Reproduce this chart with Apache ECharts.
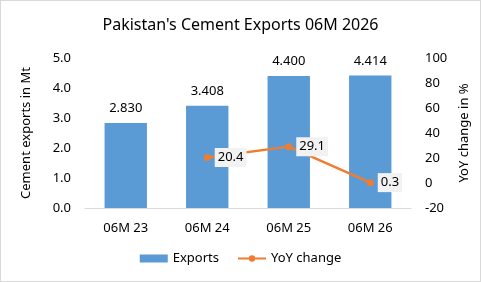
<!DOCTYPE html>
<html style="height: 100%">
<head>
<meta charset="utf-8">
<title>Pakistan's Cement Exports 06M 2026</title>
</head>
<body style="height: 100%; margin: 0">
<div id="container" style="width: 479px; height: 280px; border: 1px solid #d9d9d9; background: #fff"></div>
<script src="https://cdn.jsdelivr.net/npm/echarts@6/dist/echarts.min.js"></script>
<script>
var categories = ['06M 23', '06M 24', '06M 25', '06M 26'];
var exportsMt = [2.830, 3.408, 4.400, 4.414];
var yoyChange = [null, 20.4, 29.1, 0.3];

var font = 'Noto Sans';
var chart = echarts.init(document.getElementById('container'));

var option = {
    textStyle: { fontFamily: font },
    title: {
        text: "Pakistan's Cement Exports 06M 2026",
        left: 'center',
        top: 11,
        textStyle: { fontFamily: font, fontSize: 16, fontWeight: 'normal', color: '#000' }
    },
    legend: {
        bottom: 11,
        itemGap: 18,
        textStyle: { fontFamily: font, fontSize: 13, color: '#000' },
        data: [
            { name: 'Exports', icon: 'rect', itemStyle: { color: '#5B9BD5' } },
            { name: 'YoY change' }
        ],
        itemWidth: 28,
        itemHeight: 8
    },
    grid: { left: 84, right: 69, top: 57, bottom: 73 },
    xAxis: {
        type: 'category',
        data: categories,
        axisTick: { show: false },
        axisLine: { lineStyle: { color: '#d9d9d9' } },
        axisLabel: { color: '#000', fontSize: 13, margin: 14 }
    },
    yAxis: [{
        type: 'value',
        min: 0, max: 5, interval: 1,
        name: 'Cement exports in Mt',
        nameLocation: 'middle',
        nameGap: 52,
        nameTextStyle: { color: '#000', fontSize: 13 },
        splitLine: { show: false },
        axisLabel: { color: '#000', fontSize: 13, margin: 14, formatter: function (v) { return v.toFixed(1); } }
    }, {
        type: 'value',
        min: -20, max: 100, interval: 20,
        name: 'YoY change in %',
        nameLocation: 'middle',
        nameGap: 42,
        nameRotate: 90,
        nameTextStyle: { color: '#000', fontSize: 13 },
        splitLine: { show: false },
        axisLabel: { color: '#000', fontSize: 13, margin: 14 }
    }],
    series: [{
        name: 'Exports',
        type: 'bar',
        data: exportsMt,
        barWidth: '52%',
        itemStyle: { color: '#5B9BD5' },
        label: {
            show: true, position: 'top', color: '#000', fontSize: 13, distance: 8,
            formatter: function (p) { return p.value.toFixed(3); }
        }
    }, {
        name: 'YoY change',
        type: 'line',
        yAxisIndex: 1,
        data: yoyChange,
        connectNulls: false,
        symbol: 'circle',
        symbolSize: 7,
        lineStyle: { color: '#ED7D31', width: 2.5 },
        itemStyle: { color: '#ED7D31' },
        label: {
            show: true, position: 'right', distance: 4, color: '#000', fontSize: 13,
            backgroundColor: '#f2f2f2', padding: [3, 3],
            formatter: function (p) { return p.value.toFixed(1); }
        }
    }]
};
chart.setOption(option);
</script>
</body>
</html>
